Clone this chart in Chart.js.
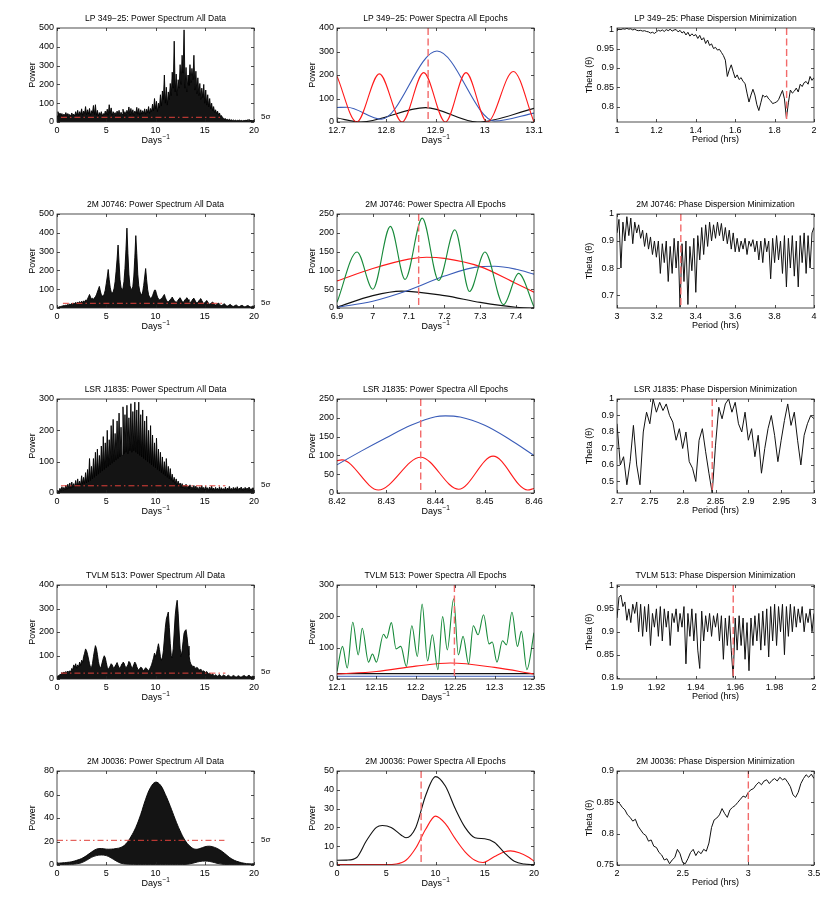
<!DOCTYPE html>
<html>
<head>
<meta charset="utf-8">
<script src="https://cdn.jsdelivr.net/npm/chart.js@4.4.1/dist/chart.umd.min.js"></script>
<style>
  body { margin: 0; background: #fff; }
  #fig { position: relative; width: 830px; height: 912px; overflow: hidden; }
  #fig canvas { position: absolute; }
</style>
</head>
<body>
<div id="fig"></div>
<script>
(function(){
  'use strict';

  const stars = ['LP 349\u221225', '2M J0746', 'LSR J1835', 'TVLM 513', '2M J0036'];

  // ---- all data power spectra (0..20 days^-1, sampled every 0.1) ----
  const allFreqStep = 0.1;
  const lpAllPower = [
    32,55,30,48,34,45,30,42,34,50,  32,45,35,40,30,48,34,42,32,55,
    36,62,33,55,40,70,35,58,45,82,  38,65,42,72,35,60,48,88,40,92,
    36,62,32,50,38,55,32,45,35,58,  40,68,36,92,45,75,34,55,40,50,
    33,58,36,62,32,52,40,68,34,55,  36,62,45,80,36,72,40,65,34,58,
    45,78,40,72,36,65,42,60,45,70,  40,68,50,82,45,72,55,95,60,125,
    70,110,55,100,75,145,85,165,120,250,  100,185,90,160,120,205,140,265,180,430,
    160,255,140,225,180,305,200,355,260,490,  180,290,160,250,195,305,210,285,225,355,
    170,270,150,235,140,205,120,180,130,200,  100,170,90,145,80,125,70,100,60,82,
    50,65,45,58,38,48,30,34,24,20,  16,18,12,14,10,15,9,12,8,11,
    7,10,6,9,7,11,6,9,5,8,  6,10,5,12,7,14,6,10,5,9,
    7
  ];
  const j0746AllPower = [
    0,3,5,8,6,12,9,15,11,16,  13,20,15,22,17,25,19,27,21,30,
    23,32,25,34,27,36,29,38,31,42,  40,48,60,72,58,48,52,45,55,60,
    70,85,100,115,90,70,65,62,75,95,  130,165,205,150,110,85,80,85,105,140,
    195,260,335,240,150,110,100,105,140,210,  310,425,290,180,120,100,100,115,170,270,
    385,290,180,120,90,75,70,85,120,165,  210,150,100,70,58,52,55,65,80,95,
    95,75,58,48,44,46,50,56,64,72,  55,42,35,32,38,45,50,58,48,40,
    33,30,35,42,50,55,45,35,30,36,  44,50,55,45,35,28,32,40,48,52,
    42,32,26,30,38,45,50,40,30,24,  28,34,40,32,24,20,24,28,32,25,
    18,16,20,24,26,20,15,13,16,20,  22,17,12,10,13,17,19,14,10,8,
    11,14,16,12,8,7,10,13,14,10,  7,6,9,12,13,9,6,5,8,11,
    8
  ];
  const j1835AllPower = [
    2,8,4,15,6,20,8,18,10,25,  12,28,14,32,15,35,18,30,20,40,
    20,45,22,38,25,55,28,50,30,65,  32,75,35,110,40,85,45,110,50,130,
    55,140,60,120,65,150,70,180,75,160,  80,200,85,170,90,215,95,235,100,190,
    105,230,110,255,115,210,120,275,125,250,  130,280,125,240,135,285,130,260,135,290,
    130,265,125,290,120,250,115,265,110,230,  105,245,100,200,95,215,90,185,85,160,
    80,175,75,140,70,130,65,115,60,100,  55,110,50,85,45,78,40,60,35,50,
    30,45,25,38,22,32,18,30,16,25,  14,28,12,22,13,26,11,20,12,24,
    10,22,12,18,9,20,11,24,10,18,  9,21,11,17,8,19,10,22,9,16,
    8,18,10,15,9,20,8,17,10,14,  9,19,8,16,10,21,9,15,8,18,
    10,17,9,20,8,16,11,19,9,15,  8,18,10,16,9,19,8,14,10,17,
    9
  ];
  const tvlmAllPower = [
    8,15,12,20,18,28,22,30,25,32,  26,34,28,35,30,45,40,60,50,65,
    45,60,52,72,58,80,70,95,110,128,  120,105,85,65,50,48,65,95,120,142,
    130,105,75,55,45,55,72,88,99,90,  70,50,40,48,55,65,60,50,45,55,
    62,70,58,48,45,55,65,72,68,55,  48,52,60,75,70,58,45,50,62,72,
    65,52,42,38,45,50,48,40,35,42,  48,45,38,35,42,50,60,75,90,110,
    95,110,130,150,125,95,80,90,120,170,  220,255,270,285,220,150,100,90,130,200,
    270,310,335,280,200,130,95,120,160,195,  205,210,180,140,100,75,62,58,52,55,
    48,45,50,46,40,38,42,36,32,35,  30,28,32,26,22,25,20,18,22,16,
    14,18,15,12,16,19,14,11,13,17,  15,12,10,14,16,13,10,9,12,15,
    13,10,8,11,14,12,9,8,11,13,  15,12,9,10,14,16,12,8,10,13,
    9
  ];
  // 2M J0036 is a smooth band, upper and lower edges every 0.5
  const j0036FreqStep = 0.5;
  const j0036AllUpper = [1.5,1.8,2.2,2.8,4,5.5,8,11,13.5,14,13.5,13.5,14,15,18,24,32,43,56,66,70.5,
                         68,60,50,39,29,21,16,13.5,14,15.5,16,15,13,10,6.5,4,2.5,1.5,1,1];
  const j0036AllLower = [0.3,0.4,0.5,0.6,1,2,4,6.5,8,8.5,8,6,3.5,1.5,0.8,0.6,0.5,0.5,0.5,0.5,0.5,
                         0.5,0.5,0.5,0.5,0.5,0.5,1,2,3,3.3,3,2,1,0.5,0.3,0.3,0.3,0.3,0.3,0.3];

  const allFreqTicks = [0, 5, 10, 15, 20];
  const allPowerTicks = [[0,100,200,300,400,500], [0,100,200,300,400,500], [0,100,200,300], [0,100,200,300,400], [0,20,40,60,80]];
  const allPowerMax = [500, 500, 300, 400, 80];
  const thresholdLevels = [25, 25, 23, 25, 21];
  const thresholdSpans = [[0.4, 16.6], [0.6, 17], [0.4, 17.1], [0.4, 17.1], [0, 17]];

  // ---- power spectra per epoch ----
  const lpEpochRedX   = [12.7, 12.74, 12.786, 12.832, 12.876, 12.92, 12.962, 13.005, 13.058, 13.1];
  const lpEpochRedY   = [195, 0, 205, 0, 210, 0, 210, 0, 215, 0];
  const lpEpochBlueX  = [12.7, 12.72, 12.79, 12.903, 13.02, 13.1];
  const lpEpochBlueY  = [62, 63, 12, 302, 4, 38];
  const lpEpochBlackX = [12.7, 12.748, 12.88, 12.985, 13.1];
  const lpEpochBlackY = [17, 0, 61, 0, 58];

  const j0746EpochGreenX = [6.9, 6.956, 7.0, 7.049, 7.09, 7.138, 7.184, 7.229, 7.27, 7.313, 7.365, 7.407, 7.45];
  const j0746EpochGreenY = [15, 149, 50, 217, 76, 239, 73, 208, 44, 149, 9, 92, 3];
  const j0746EpochRedX   = [6.9, 7.0, 7.1, 7.15, 7.2, 7.3, 7.4, 7.45];
  const j0746EpochRedY   = [72, 105, 130, 135, 132, 110, 65, 42];
  const j0746EpochBlueX  = [6.9, 7.0, 7.1, 7.2, 7.3, 7.34, 7.4, 7.45];
  const j0746EpochBlueY  = [2, 18, 47, 85, 110, 111, 103, 90];
  const j0746EpochBlackX = [6.9, 7.0, 7.08, 7.2, 7.3, 7.4, 7.44, 7.45];
  const j0746EpochBlackY = [2, 33, 45, 33, 15, 2, 0, 1];

  const j1835EpochBlueX = [8.42, 8.425, 8.43, 8.435, 8.44, 8.442, 8.445, 8.45, 8.455, 8.46];
  const j1835EpochBlueY = [75, 112, 147, 180, 203, 205, 202, 180, 143, 100];
  const j1835EpochRedX  = [8.42, 8.421, 8.4284, 8.437, 8.4447, 8.4517, 8.4587, 8.46];
  const j1835EpochRedY  = [86, 88, 8, 95, 10, 98, 8, 12];

  const tvlmEpochGreenX = [12.100, 12.107, 12.113, 12.120, 12.127, 12.132, 12.140, 12.145, 12.150, 12.159, 12.163,
                           12.169, 12.175, 12.181, 12.188, 12.195, 12.202, 12.208, 12.215, 12.221, 12.228, 12.234,
                           12.240, 12.248, 12.254, 12.260, 12.267, 12.273, 12.279, 12.286, 12.293, 12.297, 12.303,
                           12.310, 12.315, 12.322, 12.329, 12.334, 12.341, 12.350];
  const tvlmEpochGreenY = [24, 104, 35, 181, 77, 162, 54, 80, 54, 143, 130,
                           180, 96, 104, 40, 170, 72, 239, 58, 141, 30, 199,
                           93, 256, 77, 136, 48, 170, 141, 205, 112, 118, 54,
                           122, 109, 213, 104, 152, 30, 148];
  const tvlmEpochRedX   = [12.1, 12.15, 12.2, 12.244, 12.3, 12.35];
  const tvlmEpochRedY   = [16, 24, 41, 51, 37, 16];
  const tvlmEpochBlackX = [12.1, 12.2, 12.3, 12.35];
  const tvlmEpochBlackY = [17, 17, 17, 17];
  const tvlmEpochBlueX  = [12.1, 12.2, 12.3, 12.35];
  const tvlmEpochBlueY  = [9, 9, 9, 9];

  const j0036EpochBlackX = [0, 1, 2, 3, 4, 4.6, 5.5, 6.5, 7, 8, 9, 10, 11, 12, 13, 14, 15, 16, 17, 18, 19, 20];
  const j0036EpochBlackY = [2.5, 2.6, 4, 13, 20, 21, 20, 16, 14.5, 20, 37, 47, 42, 30, 20, 14.5, 14, 12, 6.5, 2, 0.5, 0.2];
  const j0036EpochRedX   = [0, 3, 5, 6, 7, 8, 9, 10, 11, 12, 13, 14, 14.8, 16, 17, 17.6, 18.5, 19.5, 20];
  const j0036EpochRedY   = [0.2, 0.2, 0.2, 0.5, 2.5, 9, 19, 26, 22, 14, 7, 2.5, 1.3, 4.5, 7, 7.5, 6.5, 4, 2];

  const epochRanges = [[12.7, 13.1], [6.9, 7.45], [8.42, 8.46], [12.1, 12.35], [0, 20]];
  const epochFreqTicks = [[12.7,12.8,12.9,13,13.1], [6.9,7,7.1,7.2,7.3,7.4], [8.42,8.43,8.44,8.45,8.46],
                          [12.1,12.15,12.2,12.25,12.3,12.35], [0,5,10,15,20]];
  const epochPowerTicks = [[0,100,200,300,400], [0,50,100,150,200,250], [0,50,100,150,200,250], [0,100,200,300], [0,10,20,30,40,50]];
  const epochPowerMax = [400, 250, 250, 300, 50];
  const epochMarkers = [12.885, 7.128, 8.437, 12.249, 8.54];

  // ---- phase dispersion minimization ----
  const lpPdmStart = 1, lpPdmStep = 0.01;
  const lpPdmTheta = [
    0.998,1.0,0.999,1.001,1.0,1.002,1.0,1.001,0.998,1.0,
    0.997,0.996,0.997,0.995,0.996,0.994,0.993,0.99,0.992,0.989,
    0.993,0.997,0.995,0.998,0.994,0.999,0.996,1.0,0.995,0.998,
    0.999,0.993,0.997,0.99,0.994,0.985,0.992,0.982,0.988,0.983,
    0.986,0.976,0.984,0.972,0.978,0.963,0.972,0.958,0.962,0.95,
    0.953,0.946,0.948,0.94,0.932,0.92,0.878,0.895,0.908,0.89,
    0.874,0.882,0.87,0.875,0.865,0.86,0.835,0.812,0.83,0.845,
    0.83,0.805,0.79,0.81,0.83,0.825,0.828,0.82,0.815,0.808,
    0.81,0.812,0.818,0.83,0.842,0.82,0.77,0.81,0.843,0.835,
    0.84,0.848,0.838,0.858,0.852,0.862,0.865,0.858,0.878,0.868,
    0.875
  ];
  const j0746PdmStart = 3, j0746PdmStep = 0.01;
  const j0746PdmTheta = [
    0.93,0.98,0.80,0.97,0.9,0.99,0.92,0.985,0.89,0.97,
    0.93,0.96,0.91,0.94,0.88,0.93,0.87,0.915,0.85,0.9,
    0.84,0.9,0.78,0.89,0.82,0.9,0.75,0.88,0.78,0.91,
    0.8,0.9,0.655,0.89,0.75,0.9,0.665,0.88,0.79,0.91,
    0.71,0.92,0.83,0.95,0.85,0.96,0.88,0.97,0.9,0.96,
    0.91,0.97,0.92,0.965,0.9,0.95,0.89,0.94,0.87,0.93,
    0.86,0.91,0.86,0.9,0.87,0.91,0.85,0.9,0.88,0.905,
    0.86,0.9,0.83,0.9,0.82,0.91,0.86,0.9,0.76,0.91,
    0.82,0.92,0.83,0.9,0.78,0.92,0.73,0.91,0.8,0.92,
    0.77,0.9,0.73,0.92,0.82,0.93,0.78,0.92,0.8,0.93,
    0.95
  ];
  const j1835PdmStart = 2.7, j1835PdmStep = 0.005;
  const j1835PdmTheta = [
    0.85,0.6,0.65,0.48,0.62,0.84,0.6,0.48,0.8,0.92,
    0.85,1.0,0.92,0.98,0.93,0.97,0.9,0.86,0.75,0.82,
    0.7,0.8,0.62,0.58,0.5,0.75,0.82,0.68,0.55,0.43,
    0.72,0.95,0.88,0.97,1.0,0.92,0.98,0.85,0.8,0.92,
    0.75,0.82,0.65,0.78,0.55,0.7,0.82,0.9,0.78,0.62,
    0.75,0.87,0.97,0.84,0.92,0.75,0.6,0.78,0.85,0.9,
    0.88
  ];
  const tvlmPdmStart = 1.9, tvlmPdmStep = 0.001;
  const tvlmPdmTheta = [
    0.93,0.975,0.98,0.955,0.965,0.925,0.95,0.92,0.96,0.94,
    0.965,0.9,0.96,0.89,0.955,0.9,0.96,0.87,0.94,0.91,
    0.95,0.89,0.955,0.88,0.95,0.91,0.945,0.87,0.94,0.92,
    0.95,0.9,0.94,0.91,0.955,0.83,0.94,0.89,0.95,0.88,
    0.94,0.86,0.82,0.945,0.88,0.935,0.9,0.94,0.89,0.935,
    0.91,0.94,0.88,0.935,0.84,0.93,0.87,0.935,0.86,0.8,
    0.93,0.86,0.935,0.87,0.93,0.84,0.92,0.815,0.93,0.87,
    0.935,0.88,0.94,0.86,0.945,0.87,0.95,0.845,0.955,0.88,
    0.96,0.87,0.955,0.9,0.96,0.85,0.955,0.89,0.96,0.9,
    0.955,0.91,0.95,0.92,0.955,0.9,0.94,0.92,0.95,0.9,
    0.94
  ];
  const j0036PdmStart = 2, j0036PdmStep = 0.02;
  const j0036PdmTheta = [
    0.852,0.848,0.842,0.838,0.83,0.826,0.82,0.823,0.812,0.806,
    0.8,0.797,0.788,0.79,0.78,0.778,0.77,0.766,0.758,0.76,
    0.752,0.758,0.762,0.775,0.768,0.754,0.752,0.76,0.77,0.775,
    0.765,0.772,0.768,0.775,0.772,0.785,0.81,0.822,0.825,0.83,
    0.84,0.832,0.826,0.838,0.842,0.845,0.85,0.855,0.86,0.858,
    0.866,0.87,0.872,0.878,0.882,0.878,0.884,0.886,0.88,0.885,
    0.888,0.884,0.89,0.886,0.888,0.882,0.875,0.862,0.858,0.866,
    0.88,0.888,0.894,0.89,0.895,0.888
  ];

  const pdmRanges = [[1, 2], [3, 4], [2.7, 3], [1.9, 2], [2, 3.5]];
  const pdmPeriodTicks = [[1,1.2,1.4,1.6,1.8,2], [3,3.2,3.4,3.6,3.8,4], [2.7,2.75,2.8,2.85,2.9,2.95,3],
                          [1.9,1.92,1.94,1.96,1.98,2], [2,2.5,3,3.5]];
  const pdmThetaTicks = [[0.8,0.85,0.9,0.95,1], [0.7,0.8,0.9,1], [0.5,0.6,0.7,0.8,0.9,1],
                         [0.8,0.85,0.9,0.95,1], [0.75,0.8,0.85,0.9]];
  const pdmThetaRanges = [[0.7605, 1.003], [0.652, 1.0], [0.43, 1.0], [0.797, 1.002], [0.75, 0.9]];
  const pdmMarkers = [1.861, 3.324, 2.845, 1.959, 3.0];

  // ---- layout ----
  const colLeft = [57, 337, 617];
  const rowTop = [28, 214, 399, 585, 771];
  const padL = 45, padT = 22, padR = 26, padB = 30;
  const plotW = 197, plotH = 94;
  const font = '"Liberation Sans", Arial, Helvetica, sans-serif';

  const RED = '#ff1a1a', BLUE = '#3a5cb8', GREEN = '#178a3a', BLACK = '#111';

  function series(start, step, vals) {
    return vals.map((v, i) => ({ x: start + i * step, y: v }));
  }
  function pairs(xs, ys) {
    return xs.map((x, i) => ({ x: x, y: ys[i] }));
  }
  function fmt(v) {
    return String(+Number(v).toFixed(4));
  }

  function curve(data, color, extra) {
    return Object.assign({ data: data, borderColor: color, borderWidth: 1.1, pointRadius: 0,
      fill: false, cubicInterpolationMode: 'monotone' }, extra || {});
  }
  function jagged(data) {
    return { data: data, borderColor: BLACK, borderWidth: 1, pointRadius: 0, fill: false, tension: 0 };
  }
  function spectrum(data, fill) {
    return { data: data, borderColor: '#000', borderWidth: 0.9, backgroundColor: '#141414',
      pointRadius: 0, fill: fill, tension: 0 };
  }

  function framePlugin(cfg) {
    return {
      id: 'frame',
      afterDatasetsDraw(chart) {
        const ctx = chart.ctx, a = chart.chartArea, x = chart.scales.x, y = chart.scales.y;
        ctx.save();
        ctx.beginPath();
        ctx.rect(a.left, a.top, a.right - a.left, a.bottom - a.top);
        ctx.clip();
        if (cfg.thresh) {
          const py = y.getPixelForValue(cfg.thresh.level);
          ctx.strokeStyle = '#e0403a';
          ctx.lineWidth = 1;
          ctx.setLineDash([6, 3, 1.5, 3]);
          ctx.beginPath();
          ctx.moveTo(x.getPixelForValue(cfg.thresh.from), py);
          ctx.lineTo(x.getPixelForValue(cfg.thresh.to), py);
          ctx.stroke();
        }
        if (cfg.marker != null) {
          const px = x.getPixelForValue(cfg.marker);
          ctx.strokeStyle = '#f26a6a';
          ctx.lineWidth = 1.4;
          ctx.setLineDash([7, 3.5]);
          ctx.beginPath();
          ctx.moveTo(px, a.top);
          ctx.lineTo(px, a.bottom);
          ctx.stroke();
        }
        ctx.restore();

        ctx.save();
        ctx.strokeStyle = '#222';
        ctx.lineWidth = 0.8;
        ctx.strokeRect(a.left, a.top, a.right - a.left, a.bottom - a.top);
        ctx.beginPath();
        x.ticks.forEach(t => {
          const px = Math.round(x.getPixelForValue(t.value)) + 0.5;
          ctx.moveTo(px, a.bottom); ctx.lineTo(px, a.bottom - 3);
          ctx.moveTo(px, a.top); ctx.lineTo(px, a.top + 3);
        });
        y.ticks.forEach(t => {
          const py = Math.round(y.getPixelForValue(t.value)) + 0.5;
          ctx.moveTo(a.left, py); ctx.lineTo(a.left + 3, py);
          ctx.moveTo(a.right, py); ctx.lineTo(a.right - 3, py);
        });
        ctx.stroke();

        const cx = (a.left + a.right) / 2, cy = (a.top + a.bottom) / 2;
        ctx.fillStyle = '#000';
        ctx.textAlign = 'center';
        ctx.textBaseline = 'alphabetic';
        ctx.font = '8.5px ' + font;
        ctx.fillText(cfg.title, cx, a.top - 7);

        ctx.font = '9px ' + font;
        if (cfg.xLabel === 'days') {
          ctx.textAlign = 'left';
          const w1 = ctx.measureText('Days').width;
          ctx.font = '6.5px ' + font;
          const w2 = ctx.measureText('\u22121').width;
          const x0 = cx - (w1 + w2) / 2;
          ctx.font = '9px ' + font;
          ctx.fillText('Days', x0, a.bottom + 21);
          ctx.font = '6.5px ' + font;
          ctx.fillText('\u22121', x0 + w1 + 0.5, a.bottom + 16.5);
        } else {
          ctx.fillText('Period (hrs)', cx, a.bottom + 20);
        }

        ctx.font = '9px ' + font;
        ctx.save();
        const off = cfg.yLabel === 'Power' ? 22 : 25;
        ctx.translate(a.left - off, cy);
        ctx.rotate(-Math.PI / 2);
        ctx.textAlign = 'center';
        ctx.fillText(cfg.yLabel, 0, 0);
        ctx.restore();

        if (cfg.thresh) {
          ctx.font = '8px ' + font;
          ctx.textAlign = 'left';
          ctx.textBaseline = 'middle';
          ctx.fillText('5\u03c3', a.right + 7, y.getPixelForValue(cfg.thresh.level) - 1);
        }
        ctx.restore();
      }
    };
  }

  function axis(range, ticks, fit) {
    return {
      type: 'linear', min: range[0], max: range[1],
      grid: { display: false, drawTicks: false, tickLength: 0 }, border: { display: false },
      ticks: { color: '#000', font: { family: font, size: 9 }, padding: 3,
               autoSkip: false, maxRotation: 0, callback: fmt },
      afterBuildTicks: s => { s.ticks = ticks.map(v => ({ value: v })); },
      afterFit: fit
    };
  }

  function makePanel(row, col, cfg) {
    const cv = document.createElement('canvas');
    const W = padL + plotW + padR, H = padT + plotH + padB;
    cv.width = W; cv.height = H;
    cv.style.width = W + 'px'; cv.style.height = H + 'px';
    cv.style.left = (colLeft[col] - padL) + 'px';
    cv.style.top = (rowTop[row] - padT) + 'px';
    document.getElementById('fig').appendChild(cv);

    new Chart(cv, {
      type: 'line',
      data: { datasets: cfg.datasets },
      options: {
        responsive: false,
        animation: false,
        events: [],
        layout: { padding: { left: 0, top: padT, right: padR, bottom: 0 } },
        plugins: { legend: { display: false }, tooltip: { enabled: false }, title: { display: false } },
        scales: {
          x: axis(cfg.xRange, cfg.xTicks, s => { s.height = padB; }),
          y: axis(cfg.yRange, cfg.yTicks, s => { s.width = padL; })
        }
      },
      plugins: [framePlugin(cfg)]
    });
  }

  // ---- left column: power spectrum of all data ----
  const allSpectra = [lpAllPower, j0746AllPower, j1835AllPower, tvlmAllPower];
  for (let r = 0; r < 5; r++) {
    let datasets;
    if (r < 4) {
      datasets = [spectrum(series(0, allFreqStep, allSpectra[r]), 'origin')];
    } else {
      datasets = [
        Object.assign(spectrum(series(0, j0036FreqStep, j0036AllUpper), '+1'), { tension: 0.4 }),
        Object.assign(spectrum(series(0, j0036FreqStep, j0036AllLower), false), { tension: 0.4 })
      ];
    }
    makePanel(r, 0, {
      title: stars[r] + ': Power Spectrum All Data',
      xRange: [0, 20], yRange: [0, allPowerMax[r]],
      xTicks: allFreqTicks, yTicks: allPowerTicks[r],
      xLabel: 'days', yLabel: 'Power',
      thresh: { level: thresholdLevels[r], from: thresholdSpans[r][0], to: thresholdSpans[r][1] },
      datasets: datasets
    });
  }

  // ---- middle column: power spectra of all epochs ----
  const epochSets = [
    [curve(pairs(lpEpochRedX, lpEpochRedY), RED), curve(pairs(lpEpochBlueX, lpEpochBlueY), BLUE),
     curve(pairs(lpEpochBlackX, lpEpochBlackY), BLACK)],
    [curve(pairs(j0746EpochGreenX, j0746EpochGreenY), GREEN), curve(pairs(j0746EpochRedX, j0746EpochRedY), RED),
     curve(pairs(j0746EpochBlueX, j0746EpochBlueY), BLUE), curve(pairs(j0746EpochBlackX, j0746EpochBlackY), BLACK)],
    [curve(pairs(j1835EpochBlueX, j1835EpochBlueY), BLUE), curve(pairs(j1835EpochRedX, j1835EpochRedY), RED)],
    [curve(pairs(tvlmEpochGreenX, tvlmEpochGreenY), GREEN), curve(pairs(tvlmEpochRedX, tvlmEpochRedY), RED),
     curve(pairs(tvlmEpochBlackX, tvlmEpochBlackY), BLACK), curve(pairs(tvlmEpochBlueX, tvlmEpochBlueY), BLUE)],
    [curve(pairs(j0036EpochBlackX, j0036EpochBlackY), BLACK), curve(pairs(j0036EpochRedX, j0036EpochRedY), RED)]
  ];
  for (let r = 0; r < 5; r++) {
    makePanel(r, 1, {
      title: stars[r] + ': Power Spectra All Epochs',
      xRange: epochRanges[r], yRange: [0, epochPowerMax[r]],
      xTicks: epochFreqTicks[r], yTicks: epochPowerTicks[r],
      xLabel: 'days', yLabel: 'Power',
      marker: epochMarkers[r],
      datasets: epochSets[r]
    });
  }

  // ---- right column: phase dispersion minimization ----
  const pdmSeries = [
    series(lpPdmStart, lpPdmStep, lpPdmTheta),
    series(j0746PdmStart, j0746PdmStep, j0746PdmTheta),
    series(j1835PdmStart, j1835PdmStep, j1835PdmTheta),
    series(tvlmPdmStart, tvlmPdmStep, tvlmPdmTheta),
    series(j0036PdmStart, j0036PdmStep, j0036PdmTheta)
  ];
  for (let r = 0; r < 5; r++) {
    makePanel(r, 2, {
      title: stars[r] + ': Phase Dispersion Minimization',
      xRange: pdmRanges[r], yRange: pdmThetaRanges[r],
      xTicks: pdmPeriodTicks[r], yTicks: pdmThetaTicks[r],
      xLabel: 'period', yLabel: 'Theta (\u03b8)',
      marker: pdmMarkers[r],
      datasets: [jagged(pdmSeries[r])]
    });
  }
}());
</script>
</body>
</html>
